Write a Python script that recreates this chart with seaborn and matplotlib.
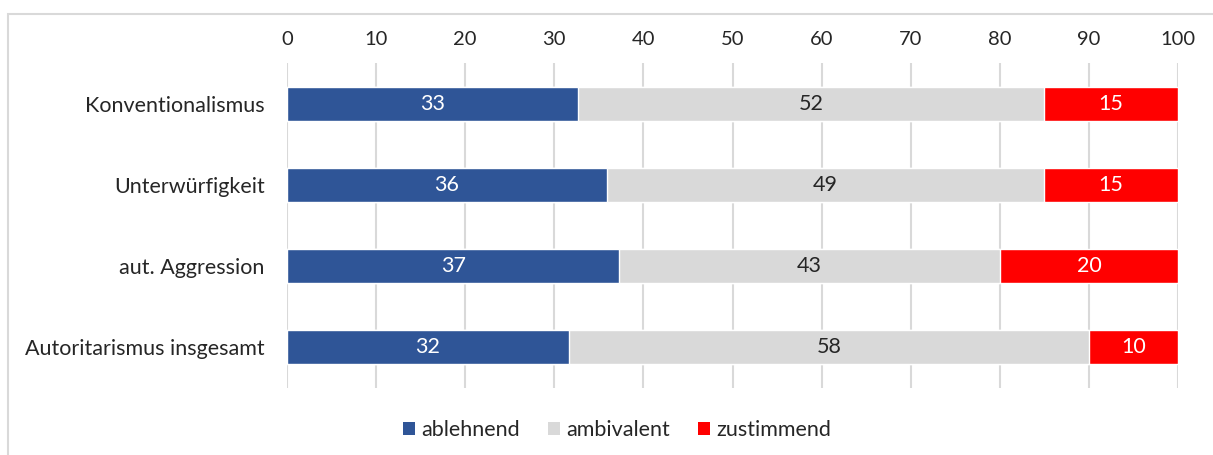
import matplotlib
matplotlib.use("Agg")
import matplotlib.pyplot as plt
import seaborn as sns
import pandas as pd
import numpy as np
from matplotlib.patches import Patch, Rectangle

categories = ["Konventionalismus", "Unterwürfigkeit", "aut. Aggression", "Autoritarismus insgesamt"]
ablehnend = [32.7, 35.9, 37.3, 31.6]
ambivalent = [52.3, 49.1, 42.7, 58.4]
zustimmend = [15.0, 15.0, 20.0, 10.0]
series_names = ["ablehnend", "ambivalent", "zustimmend"]
colors = ["#2F5597", "#D9D9D9", "#FF0000"]
text_colors = ["white", "#262626", "white"]
xticks = [0, 10, 20, 30, 40, 50, 60, 70, 80, 90, 100]

sns.set_style("white")
plt.rcParams["font.family"] = ["Lato", "DejaVu Sans"]

W, H = 1213, 455
fig = plt.figure(figsize=(W / 100, H / 100), dpi=100)
ax = fig.add_axes([287 / W, 1 - 388 / H, (1178 - 287) / W, (388 - 63) / H])

df = pd.DataFrame({"cat": categories, "a": ablehnend, "b": ambivalent, "c": zustimmend})
df["ab"] = df["a"] + df["b"]
df["abc"] = df["ab"] + df["c"]

bw = 0.42
sns.barplot(data=df, y="cat", x="abc", color=colors[2], width=bw, ax=ax, saturation=1, orient="h", zorder=3)
sns.barplot(data=df, y="cat", x="ab", color=colors[1], width=bw, ax=ax, saturation=1, orient="h", zorder=3)
sns.barplot(data=df, y="cat", x="a", color=colors[0], width=bw, ax=ax, saturation=1, orient="h", zorder=3)

for i in range(len(categories)):
    starts = [0, df["a"][i], df["ab"][i]]
    vals = [df["a"][i], df["b"][i], df["c"][i]]
    for s, v, tc in zip(starts, vals, text_colors):
        ax.text(s + v / 2, i, f"{int(round(v))}", ha="center", va="center",
                color=tc, fontsize=15.5, zorder=5)

ax.set_xlim(0, 100)
ax.set_ylim(3.5, -0.5)
ax.set_xticks(xticks)
ax.xaxis.tick_top()
ax.tick_params(axis="x", length=0, pad=11, labelsize=14.5, labelcolor="#262626")
ax.tick_params(axis="y", length=0, pad=16, labelsize=15.5, labelcolor="#262626")
ax.set_xlabel("")
ax.set_ylabel("")
for sp in ax.spines.values():
    sp.set_visible(False)
ax.grid(axis="x", color="#D9D9D9", linewidth=1.5, zorder=0)
ax.grid(axis="y", visible=False)
ax.set_axisbelow(True)

# outer chart frame
fig.patches.append(Rectangle((8 / W, -0.1), 1.2, 1 - 14 / H + 0.1, transform=fig.transFigure,
                             fill=False, edgecolor="#D9D9D9", linewidth=1.5, zorder=0))

handles = [Patch(facecolor=c, edgecolor="none") for c in colors]
fig.legend(handles, series_names, loc="center", bbox_to_anchor=(617 / W, 1 - 430 / H), ncol=3,
           frameon=False, fontsize=15.5, handlelength=0.55, handleheight=0.55, handletextpad=0.3,
           columnspacing=1.3, labelcolor="#262626")

fig.savefig("out.png", dpi=100)
